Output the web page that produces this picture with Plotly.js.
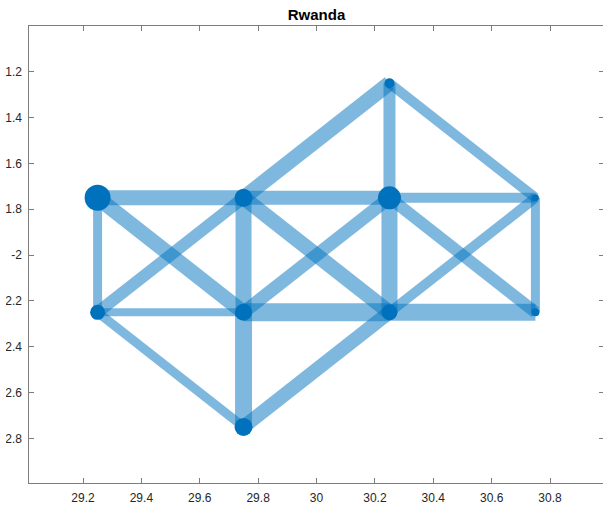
<!DOCTYPE html>
<html><head><meta charset="utf-8">
<script src="https://cdn.plot.ly/plotly-3.0.1.min.js"></script>
<style>
html,body{margin:0;padding:0;overflow:hidden;background:#fff}
#wrap{position:relative;width:603px;height:505px;overflow:hidden}
#chart{position:absolute;left:0;top:0;width:606px;height:505px}
#edge{position:absolute;left:0;top:0;width:6px;height:505px;background:#fff;z-index:10}
</style>
</head><body><div id="wrap"><div id="chart"></div><div id="edge"></div></div><script>
// Node coordinates (lon, lat) and node weights (marker diameter)
const nodeX = [29.25, 29.25, 29.75, 29.75, 29.75, 30.25, 30.25, 30.25, 30.75, 30.75];
const nodeY = [-1.75, -2.25, -1.75, -2.25, -2.75, -1.25, -1.75, -2.25, -1.75, -2.25];
const nodeSize = [26, 15, 18, 17, 18, 10, 23, 16, 7, 8];
// Edges
const edgeSource = [0, 0, 0, 1, 1, 1, 2, 2, 2, 2, 3, 3, 3, 4, 5, 5, 6, 6, 6, 7, 7, 8];
const edgeTarget = [2, 1, 3, 3, 2, 4, 3, 6, 7, 5, 6, 7, 4, 7, 6, 8, 8, 7, 9, 8, 9, 9];
const edgeWeight = [15, 9, 15, 8, 12, 9, 16, 14, 15, 15, 13, 18, 17, 14, 12, 10, 10, 16, 12, 10, 17, 9];
// Ticks
const xTickVals = [29.2, 29.4, 29.6, 29.8, 30, 30.2, 30.4, 30.6, 30.8];
const xTickText = ["29.2", "29.4", "29.6", "29.8", "30", "30.2", "30.4", "30.6", "30.8"];
const yTickVals = [-1.2, -1.4, -1.6, -1.8, -2, -2.2, -2.4, -2.6, -2.8];
const yTickText = ["-1.2", "-1.4", "-1.6", "-1.8", "-2", "-2.2", "-2.4", "-2.6", "-2.8"];

const blue = '#0072BD';
const edgeColor = 'rgba(0,114,189,0.5)';
const traces = [];
for (let i = 0; i < edgeSource.length; i++) {
  const s = edgeSource[i], t = edgeTarget[i];
  traces.push({
    type: 'scatter', mode: 'lines',
    x: [nodeX[s], nodeX[t]], y: [nodeY[s], nodeY[t]],
    line: {color: edgeColor, width: edgeWeight[i]},
    hoverinfo: 'skip', showlegend: false
  });
}
traces.push({
  type: 'scatter', mode: 'markers',
  x: nodeX, y: nodeY,
  marker: {size: nodeSize, color: blue, opacity: 1, line: {width: 0}},
  showlegend: false
});

const axisCommon = {
  showgrid: false, zeroline: false, showline: true, mirror: 'ticks',
  linecolor: '#262626', linewidth: 0.6,
  ticks: 'inside', ticklen: 5, tickwidth: 0.6, tickcolor: '#262626',
  tickfont: {family: 'Liberation Sans, Arial, sans-serif', size: 12, color: '#262626'},
  tickmode: 'array', automargin: false
};
const layout = {
  width: 606, height: 505,
  margin: {l: 29, r: 2, t: 26, b: 22},
  paper_bgcolor: '#fff', plot_bgcolor: '#fff',
  showlegend: false,
  title: {text: '<b>Rwanda</b>', font: {family: 'Liberation Sans, Arial, sans-serif', size: 15, color: '#000'},
          x: 0.5, xref: 'paper', xanchor: 'center', y: 1 - 15/505, yref: 'container', yanchor: 'middle'},
  xaxis: Object.assign({}, axisCommon, {range: [29.015, 30.985], tickvals: xTickVals, ticktext: xTickText, ticklabelstandoff: 4}),
  yaxis: Object.assign({}, axisCommon, {range: [-2.995, -1.0], tickvals: yTickVals, ticktext: yTickText, ticklabelstandoff: 4})
};
Plotly.newPlot('chart', traces, layout, {displayModeBar: false, staticPlot: true});
</script></body></html>
